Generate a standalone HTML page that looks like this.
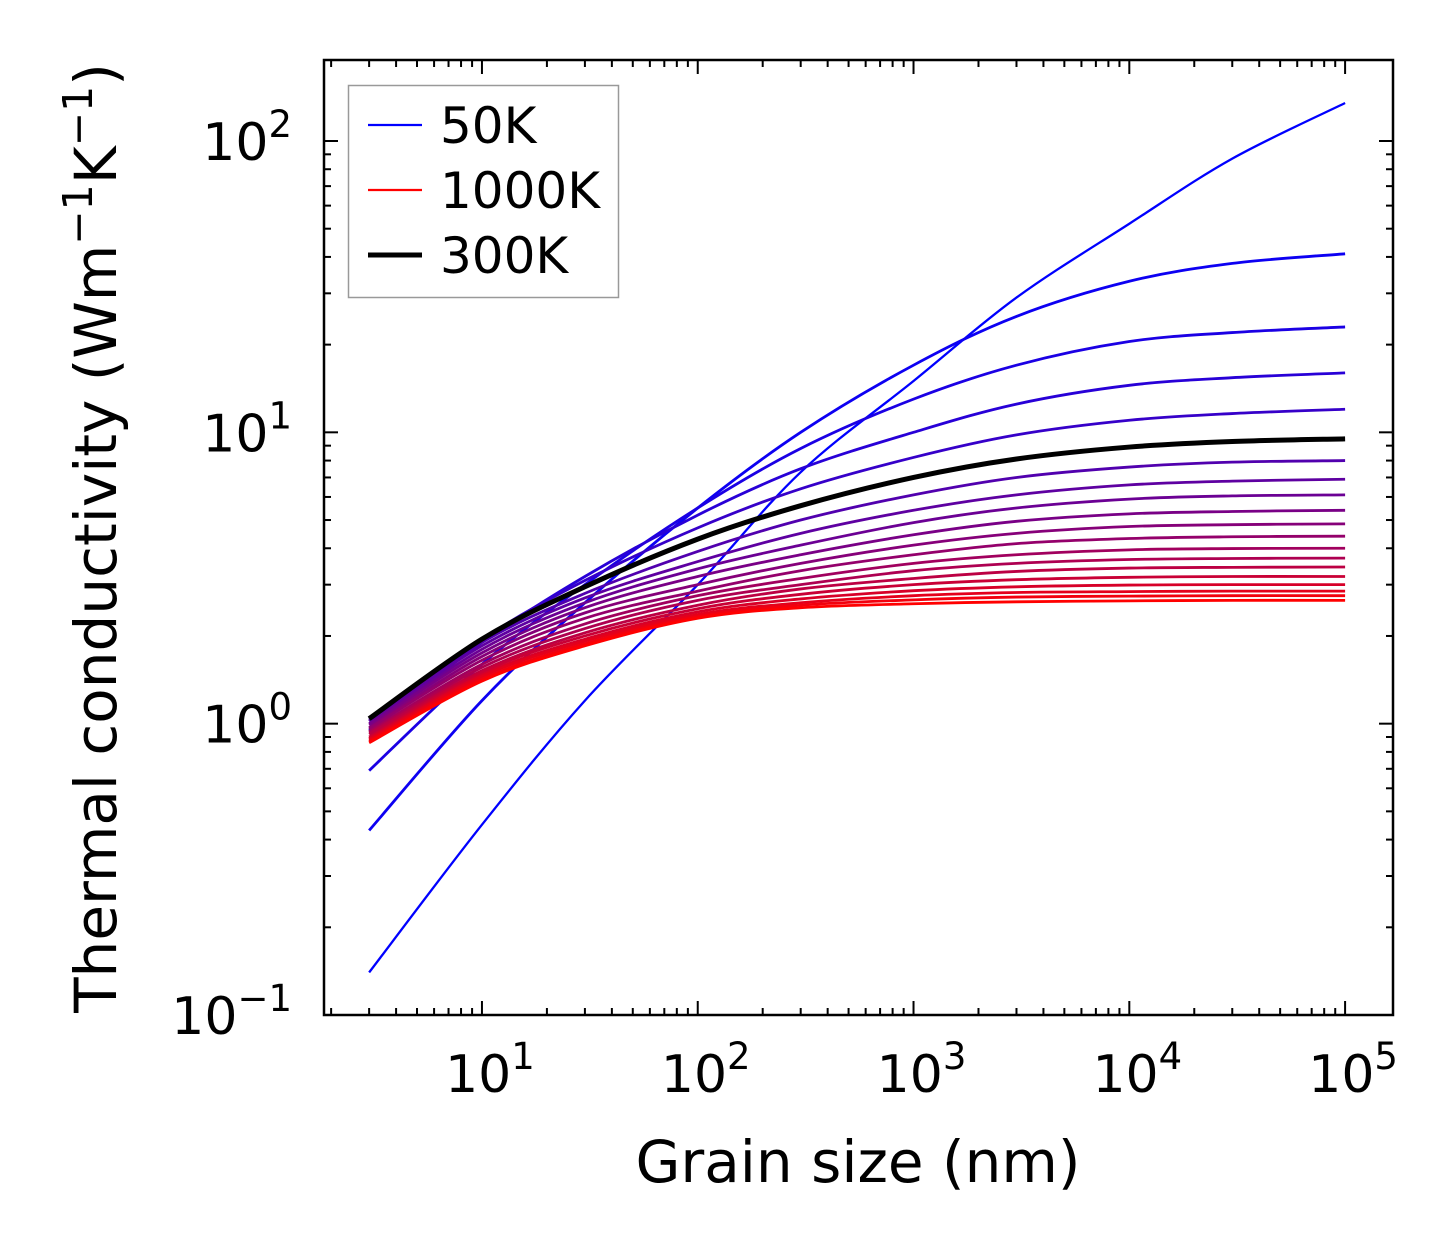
<!DOCTYPE html>
<html><head><meta charset="utf-8"><style>
html,body{margin:0;padding:0;background:#fff;}
svg{display:block;font-family:"DejaVu Sans","Liberation Sans",sans-serif;}
</style></head><body>
<svg id="chart" width="1454" height="1254" viewBox="0 0 1454 1254"></svg>
<script>
const grainSizes=[3,10,30,100,300,1000,3000,1e4,3e4,1e5];
const temperatures=[50,100,150,200,250,300,350,400,450,500,550,600,650,700,750,800,850,900,950,1000];
const k50=[0.14,0.45,1.2,3.0,7.3,15,29,52,87,135];
const k100=[0.43,1.2,2.6,5.5,10,17,25,33,38,41];
const k150=[0.69,1.6,3.0,5.5,8.8,13,17,20.5,22,23];
const k200=[0.95,1.9,3.2,5.2,7.5,10,12.5,14.5,15.4,16];
const k250=[1.02,1.95,3.1,4.7,6.4,8.2,9.8,11,11.6,12];
const k300=[1.04,1.95,2.95,4.3,5.6,7.0,8.1,8.9,9.3,9.5];
const k350=[1.03,1.9,2.8,3.9,5.0,6.1,7.0,7.6,7.9,8.0];
const k400=[1.02,1.85,2.7,3.6,4.5,5.4,6.1,6.6,6.8,6.9];
const k450=[1.0,1.8,2.6,3.4,4.1,4.9,5.5,5.9,6.05,6.1];
const k500=[0.99,1.75,2.5,3.2,3.8,4.45,4.95,5.25,5.35,5.4];
const k550=[0.97,1.7,2.4,3.0,3.55,4.1,4.5,4.75,4.82,4.85];
const k600=[0.96,1.65,2.3,2.85,3.35,3.8,4.15,4.32,4.38,4.4];
const k650=[0.94,1.6,2.2,2.75,3.15,3.55,3.8,3.95,3.99,4.0];
const k700=[0.93,1.56,2.12,2.65,3.0,3.35,3.55,3.66,3.69,3.7];
const k750=[0.92,1.52,2.05,2.55,2.9,3.15,3.33,3.42,3.44,3.45];
const k800=[0.9,1.5,2.0,2.48,2.78,3.0,3.12,3.18,3.2,3.2];
const k850=[0.89,1.47,1.95,2.42,2.68,2.86,2.95,2.99,3.0,3.0];
const k900=[0.88,1.45,1.92,2.37,2.6,2.75,2.82,2.84,2.85,2.85];
const k950=[0.87,1.42,1.88,2.33,2.55,2.66,2.72,2.74,2.75,2.75];
const k1000=[0.86,1.4,1.85,2.3,2.5,2.58,2.62,2.64,2.65,2.65];
const series=[k50,k100,k150,k200,k250,k300,k350,k400,k450,k500,k550,k600,k650,k700,k750,k800,k850,k900,k950,k1000];
const xTickExps=[1,2,3,4,5];
const yTickExps=[-1,0,1,2];

const NS="http://www.w3.org/2000/svg";
const svg=document.getElementById('chart');
const L=324,R=1393,T=60,B=1015;
const xMin=0.268,xMax=5.222,yMin=-1,yMax=2.278;
function sx(v){return L+(Math.log10(v)-xMin)/(xMax-xMin)*(R-L);}
function sy(v){return B-(Math.log10(v)-yMin)/(yMax-yMin)*(B-T);}
function el(tag,attrs,parent){const e=document.createElementNS(NS,tag);for(const k in attrs)e.setAttribute(k,attrs[k]);(parent||svg).appendChild(e);return e;}

const defs=el('defs',{});
const cp=el('clipPath',{id:'clip'},defs);
el('rect',{x:L,y:T,width:R-L,height:B-T},cp);
const plot=el('g',{'clip-path':'url(#clip)'});



function pathFor(vals){
  const pts=grainSizes.map((g,i)=>[sx(g),sy(vals[i])]);
  let d='M'+pts[0][0].toFixed(2)+','+pts[0][1].toFixed(2);
  for(let i=0;i<pts.length-1;i++){
    const p0=pts[Math.max(0,i-1)],p1=pts[i],p2=pts[i+1],p3=pts[Math.min(pts.length-1,i+2)];
    const c1=[p1[0]+(p2[0]-p0[0])/6,p1[1]+(p2[1]-p0[1])/6];
    const c2=[p2[0]-(p3[0]-p1[0])/6,p2[1]-(p3[1]-p1[1])/6];
    d+=' C'+c1.map(v=>v.toFixed(2)).join(',')+' '+c2.map(v=>v.toFixed(2)).join(',')+' '+p2.map(v=>v.toFixed(2)).join(',');
  }
  return d;
}
series.forEach((vals,i)=>{
  if(temperatures[i]===300)return;
  const t=i/(series.length-1);
  const c='rgb('+Math.round(255*t)+',0,'+Math.round(255*(1-t))+')';
  const p=el('path',{d:pathFor(vals),fill:'none',stroke:c,'stroke-width':i===0?2.3:2.8},plot);
  
  
});
const bp=el('path',{d:pathFor(k300),fill:'none',stroke:'#000','stroke-width':5},plot);



const fr=el('rect',{x:L,y:T,width:R-L,height:B-T,fill:'none',stroke:'#000','stroke-width':2.5});



const tg=el('g',{stroke:'#000','stroke-width':2});


for(let e=0;e<=5;e++){for(let m=1;m<10;m++){const v=m*Math.pow(10,e);const lv=Math.log10(v);if(lv<xMin||lv>xMax)continue;const x=sx(v);const len=m===1?14:7;
  el('line',{x1:x,y1:B,x2:x,y2:B-len},tg);el('line',{x1:x,y1:T,x2:x,y2:T+len},tg);}}
for(let e=-1;e<=2;e++){for(let m=1;m<10;m++){const v=m*Math.pow(10,e);const lv=Math.log10(v);if(lv<yMin-1e-6||lv>yMax)continue;const y=sy(v);const len=m===1?14:7;
  el('line',{x1:L,y1:y,x2:L+len,y2:y},tg);el('line',{x1:R,y1:y,x2:R-len,y2:y},tg);}}

function powLabel(x,y,exp,anchor,name){
  const t=el('text',{x:x,y:y,'font-size':52,'text-anchor':anchor,fill:'#000'});
  
  
  const a=el('tspan',{},t);a.textContent='10';
  const b=el('tspan',{dy:-23,'font-size':37},t);b.textContent=exp<0?'\u2212'+(-exp):String(exp);
}
xTickExps.forEach(e=>powLabel(sx(Math.pow(10,e))+8,1092,e,'middle','x-tick-label-1e'+e));
yTickExps.forEach(e=>powLabel(292,sy(Math.pow(10,e))+19,e,'end','y-tick-label-1e'+e));

const xt=el('text',{x:858,y:1182,'font-size':58,'text-anchor':'middle',fill:'#000'});
xt.textContent='Grain size (nm)';


const yt=el('text',{transform:'translate(116,538) rotate(-90)','font-size':58,'text-anchor':'middle',fill:'#000'});


const s1=el('tspan',{},yt);s1.textContent='Thermal conductivity (Wm';
const s2=el('tspan',{dy:-24,'font-size':41},yt);s2.textContent='\u22121';
const s3=el('tspan',{dy:24},yt);s3.textContent='K';
const s4=el('tspan',{dy:-24,'font-size':41},yt);s4.textContent='\u22121';
const s5=el('tspan',{dy:24},yt);s5.textContent=')';

const lg=el('g',{});


el('rect',{x:348.5,y:85.5,width:270,height:212,fill:'#fff',stroke:'#999','stroke-width':1.5},lg);
const entries=[['50K','rgb(0,0,255)',2.3],['1000K','rgb(255,0,0)',2.3],['300K','#000',5]];
entries.forEach((en,i)=>{
  const y=125+i*65;
  const g=el('g',{},lg);
  
  
  el('line',{x1:368,y1:y,x2:422,y2:y,stroke:en[1],'stroke-width':en[2]},g);
  const t=el('text',{x:440,y:y+18,'font-size':50,fill:'#000'},g);t.textContent=en[0];
});
</script>
</body></html>
